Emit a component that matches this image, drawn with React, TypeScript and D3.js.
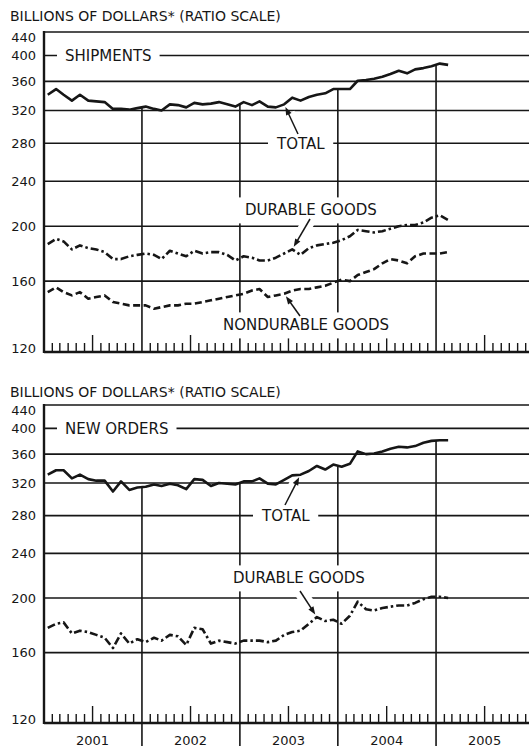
import { useEffect, useRef } from 'react';
import * as d3 from 'd3';

const WIDTH = 529;
const HEIGHT = 750;

// monthly points, Jan 2001 - Feb 2005 (plotted mid-month)
const months = d3.range(50).map((i) => new Date(2001, i, 15));
const yearLabels = ['2001', '2002', '2003', '2004', '2005'];
const yTicks = [440, 400, 360, 320, 280, 240, 200, 160, 120];
const title = 'BILLIONS OF DOLLARS* (RATIO SCALE)';

const shipmentsTotal = [
  341, 349, 341, 333, 341, 333, 332, 331, 322, 322,
  321, 323, 325, 322, 320, 328, 327, 324, 330, 328,
  329, 331, 328, 325, 331, 327, 332, 325, 324, 328,
  337, 333, 338, 341, 343, 349, 349, 349, 361, 362,
  364, 367, 371, 376, 372, 378, 380, 383, 387, 385,
];
const shipmentsDurable = [
  186, 190, 188, 182, 185, 183, 182, 180, 175, 175,
  177, 178, 179, 178, 175, 181, 179, 177, 181, 179,
  180, 180, 178, 174, 177, 176, 174, 174, 176, 179,
  182, 178, 183, 185, 186, 187, 189, 192, 197, 196,
  195, 196, 198, 200, 201, 201, 203, 207, 209, 205,
];
const shipmentsNondurable = [
  153, 156, 153, 151, 153, 149, 150, 151, 147, 146,
  145, 145, 145, 143, 144, 145, 145, 146, 146, 147,
  148, 149, 150, 151, 152, 154, 155, 150, 151, 152,
  154, 155, 155, 156, 157, 159, 161, 160, 164, 166,
  168, 172, 175, 174, 172, 177, 179, 179, 179, 180,
];
const ordersTotal = [
  331, 337, 337, 326, 331, 325, 323, 323, 309, 322,
  311, 314, 315, 318, 316, 319, 317, 312, 325, 324,
  316, 320, 319, 318, 322, 322, 326, 319, 318, 324,
  330, 331, 336, 343, 338, 345, 342, 346, 364, 360,
  361, 364, 368, 371, 370, 372, 377, 380, 381, 381,
];
const ordersDurable = [
  177, 180, 181, 173, 175, 174, 172, 170, 163, 173,
  166, 169, 167, 170, 168, 172, 171, 165, 177, 176,
  166, 168, 167, 166, 168, 168, 168, 167, 168, 172,
  174, 175, 180, 185, 182, 183, 180, 186, 197, 191,
  190, 192, 193, 194, 194, 196, 199, 201, 201, 200,
];

const INK = '#161616';
const FONT = 'DejaVu Sans, sans-serif';

const x = d3
  .scaleTime()
  .domain([new Date(2001, 0, 1), new Date(2006, 0, 1)])
  .range([44, 534]);

interface Label {
  text: string;
  x: number;
  y?: number;
  value?: number;
}
interface Arrow {
  from: [number, number];
  series: number;
  month: number;
}
interface Panel {
  titleY: number;
  top: number;
  bottom: number;
  series: { values: number[]; dash: string | null }[];
  labels: Label[];
  arrows: Arrow[];
  yearAxis: boolean;
}

const panels: Panel[] = [
  {
    titleY: 21,
    top: 32,
    bottom: 352,
    series: [
      { values: shipmentsTotal, dash: null },
      { values: shipmentsDurable, dash: '8,3,2.5,3' },
      { values: shipmentsNondurable, dash: '7,3.5' },
    ],
    labels: [
      { text: 'SHIPMENTS', x: 65, value: 400 },
      { text: 'TOTAL', x: 277, value: 280 },
      { text: 'DURABLE GOODS', x: 245, y: 210 },
      { text: 'NONDURABLE GOODS', x: 223, y: 325 },
    ],
    arrows: [
      { from: [298, 134], series: 0, month: 29 },
      { from: [310, 219], series: 1, month: 30 },
      { from: [300, 316], series: 2, month: 29 },
    ],
    yearAxis: false,
  },
  {
    titleY: 397,
    top: 405,
    bottom: 723,
    series: [
      { values: ordersTotal, dash: null },
      { values: ordersDurable, dash: '8,3,2.5,3' },
    ],
    labels: [
      { text: 'NEW ORDERS', x: 65, value: 400 },
      { text: 'TOTAL', x: 262, value: 280 },
      { text: 'DURABLE GOODS', x: 233, y: 578 },
    ],
    arrows: [
      { from: [285, 505], series: 0, month: 31 },
      { from: [300, 591], series: 1, month: 33 },
    ],
    yearAxis: true,
  },
];

const App = () => {
  const svgRef = useRef<SVGSVGElement>(null);

  useEffect(() => {
    const svg = d3.select(svgRef.current);
    svg.selectAll('*').remove();
    svg.append('rect').attr('width', WIDTH).attr('height', HEIGHT).attr('fill', 'white');

    const yearStarts = d3.timeYear.range(new Date(2002, 0, 1), new Date(2006, 0, 1));
    const monthTicks = d3
      .timeMonth.range(new Date(2001, 0, 1), new Date(2006, 0, 1))
      .filter((d) => d.getMonth() !== 0);

    panels.forEach((p) => {
      const y = d3.scaleLog().domain([120, 440]).range([p.bottom, p.top]);
      const g = svg.append('g');
      const total = p.series[0].values;
      const totalAt = d3.scaleTime<number>().domain(months).range(total);

      // horizontal grid
      g.selectAll('line.grid')
        .data(yTicks)
        .join('line')
        .attr('x1', 44)
        .attr('x2', WIDTH)
        .attr('y1', (d) => y(d))
        .attr('y2', (d) => y(d))
        .attr('stroke', INK)
        .attr('stroke-width', (d) => (d === 120 ? 2.4 : 1.6));

      // year lines, from the axis up to the total curve
      g.selectAll('line.year')
        .data(yearStarts)
        .join('line')
        .attr('x1', (d) => x(d))
        .attr('x2', (d) => x(d))
        .attr('y1', p.yearAxis ? p.bottom + 23 : p.bottom)
        .attr('y2', (d) => y(totalAt(d)))
        .attr('stroke', INK)
        .attr('stroke-width', 1.6);

      // month ticks
      g.selectAll('line.tick')
        .data(monthTicks)
        .join('line')
        .attr('x1', (d) => x(d))
        .attr('x2', (d) => x(d))
        .attr('y1', p.bottom)
        .attr('y2', (d) => p.bottom - (d.getMonth() === 6 ? 17 : 9))
        .attr('stroke', INK)
        .attr('stroke-width', 1.4);

      // arrow geometry
      const arrows = p.arrows.map((a) => {
        const tx = x(months[a.month]);
        const ty = y(p.series[a.series].values[a.month]);
        const dx = tx - a.from[0];
        const dy = ty - a.from[1];
        const len = Math.hypot(dx, dy);
        const ux = dx / len;
        const uy = dy / len;
        const tip: [number, number] = [tx - ux * 3, ty - uy * 3];
        return { from: a.from, tip, ux, uy };
      });

      // white halos behind arrow shafts
      g.selectAll('line.halo')
        .data(arrows)
        .join('line')
        .attr('x1', (d) => d.from[0])
        .attr('y1', (d) => d.from[1])
        .attr('x2', (d) => d.tip[0] - d.ux * 7)
        .attr('y2', (d) => d.tip[1] - d.uy * 7)
        .attr('stroke', 'white')
        .attr('stroke-width', 13);

      // labels on white patches
      const labels = g
        .selectAll('g.label')
        .data(p.labels)
        .join('g');
      labels
        .append('text')
        .attr('x', (d) => d.x)
        .attr('y', (d) => (d.value !== undefined ? y(d.value) : d.y!))
        .attr('dy', '0.36em')
        .attr('font-family', FONT)
        .attr('font-size', 15)
        .attr('fill', INK)
        .text((d) => d.text);
      labels.each(function () {
        const grp = d3.select(this);
        const bb = (grp.select('text').node() as SVGTextElement).getBBox();
        grp
          .insert('rect', 'text')
          .attr('x', bb.x - 8)
          .attr('y', bb.y - 4)
          .attr('width', bb.width + 16)
          .attr('height', bb.height + 8)
          .attr('fill', 'white');
      });

      // series
      const line = d3
        .line<number>()
        .x((_, i) => x(months[i]))
        .y((d) => y(d));
      g.selectAll('path.series')
        .data(p.series)
        .join('path')
        .attr('d', (d) => line(d.values))
        .attr('fill', 'none')
        .attr('stroke', INK)
        .attr('stroke-width', 2.6)
        .attr('stroke-linejoin', 'round')
        .attr('stroke-dasharray', (d) => d.dash);

      // arrows
      g.selectAll('line.arrow')
        .data(arrows)
        .join('line')
        .attr('x1', (d) => d.from[0])
        .attr('y1', (d) => d.from[1])
        .attr('x2', (d) => d.tip[0] - d.ux * 4)
        .attr('y2', (d) => d.tip[1] - d.uy * 4)
        .attr('stroke', INK)
        .attr('stroke-width', 1.5);
      g.selectAll('path.head')
        .data(arrows)
        .join('path')
        .attr('d', (d) => {
          const bx = d.tip[0] - d.ux * 8;
          const by = d.tip[1] - d.uy * 8;
          const nx = -d.uy * 3;
          const ny = d.ux * 3;
          return `M${d.tip[0]},${d.tip[1]}L${bx + nx},${by + ny}L${bx - nx},${by - ny}Z`;
        })
        .attr('fill', INK);

      // left frame
      g.append('line')
        .attr('x1', 44)
        .attr('x2', 44)
        .attr('y1', p.top - 1)
        .attr('y2', p.bottom + 1)
        .attr('stroke', INK)
        .attr('stroke-width', 2.4);

      // y tick labels
      g.selectAll('text.ytick')
        .data(yTicks)
        .join('text')
        .attr('x', 36)
        .attr('y', (d) => y(d) + (d === 440 ? 5 : d === 120 ? -4 : 0))
        .attr('dy', '0.36em')
        .attr('text-anchor', 'end')
        .attr('font-family', FONT)
        .attr('font-size', 13)
        .attr('fill', INK)
        .text((d) => d);

      g.append('text')
        .attr('x', 10)
        .attr('y', p.titleY)
        .attr('font-family', FONT)
        .attr('font-size', 14)
        .attr('fill', INK)
        .text(title);

      if (p.yearAxis) {
        g.selectAll('text.year')
          .data(yearLabels)
          .join('text')
          .attr('x', (d) => x(new Date(+d, 6, 1)))
          .attr('y', 745)
          .attr('text-anchor', 'middle')
          .attr('font-family', FONT)
          .attr('font-size', 13)
          .attr('fill', INK)
          .text((d) => d);
      }
    });
  }, []);

  return (
    <svg
      ref={svgRef}
      width={WIDTH}
      height={HEIGHT}
      style={{ position: 'absolute', left: 0, top: 0, display: 'block' }}
    />
  );
};

export default App;
